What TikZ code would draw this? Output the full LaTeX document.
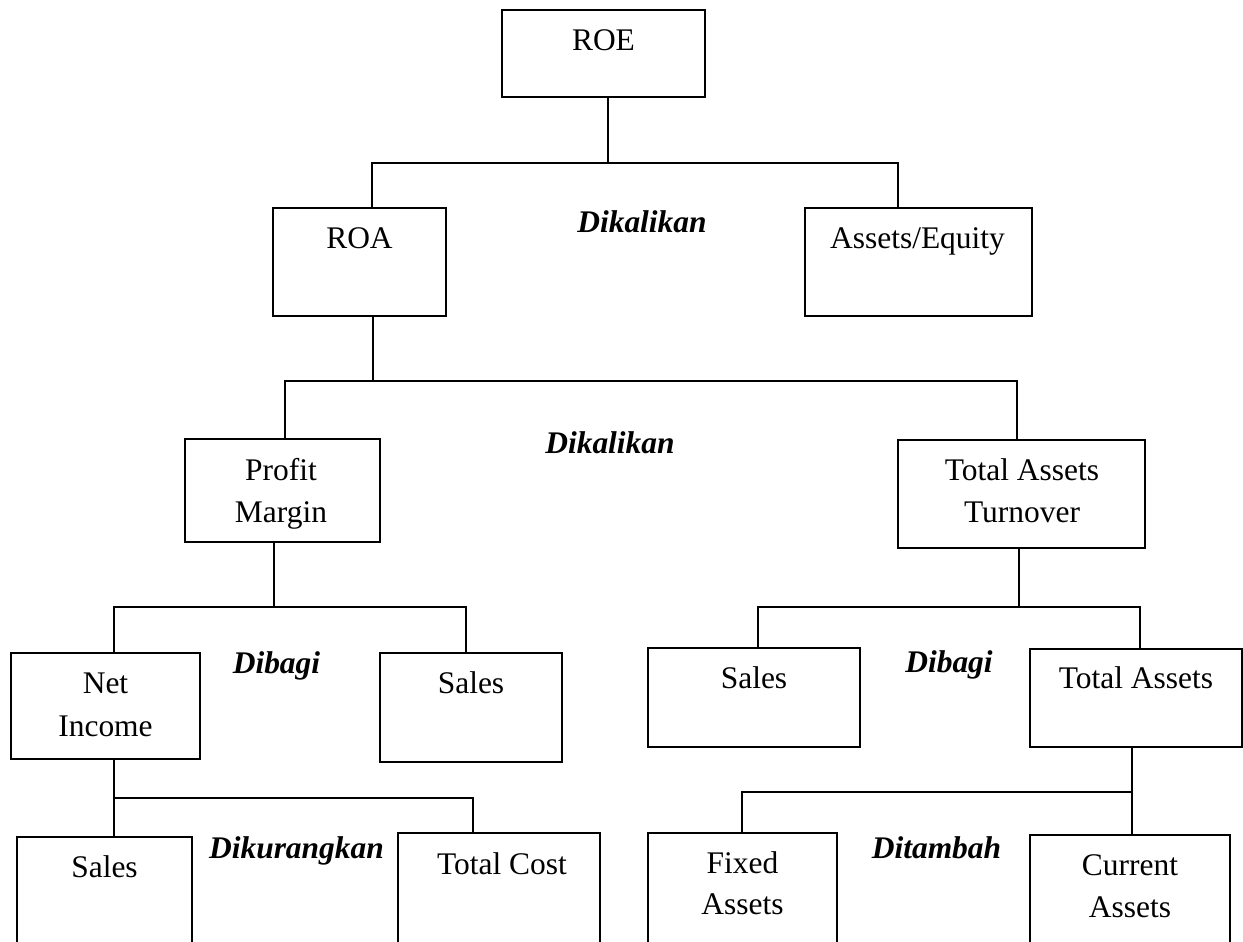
\documentclass[tikz,border=0pt]{standalone}
\usepackage{fontspec}
\setmainfont{Liberation Serif}
\newcommand{\mybox}[5]{%
  \node[box, minimum width={(#4-#2)*0.75pt}, minimum height={(#5-#3)*0.75pt}]
    (#1) at ({(#2+#4)/2},{(#3+#5)/2}) {};}
\tikzset{
  box/.style={draw, line width=1.5pt, inner sep=0pt},
  conn/.style={line width=1.5pt},
  txt/.style={inner sep=0pt, anchor=base, align=center,
    font=\fontsize{23.6}{32}\selectfont},
  op/.style={inner sep=0pt, anchor=base,
    font=\fontsize{23.6}{28}\selectfont\bfseries\itshape},
}
\begin{document}
\begin{tikzpicture}[x=0.75pt, y=-0.75pt]
\useasboundingbox (0,0) rectangle (1243,942);
\clip (0,0) rectangle (1243,942);
% boxes
\mybox{roe}{502}{10}{705}{97}
\mybox{roa}{273}{208}{446}{316}
\mybox{aeq}{805}{208}{1032}{316}
\mybox{pm}{185}{439}{380}{542}
\mybox{tat}{898}{440}{1145}{548}
\mybox{ni}{11}{653}{200}{759}
\mybox{sa}{380}{653}{562}{762}
\mybox{sb}{648}{648}{860}{747}
\mybox{ta}{1030}{649}{1242}{747}
\mybox{sc}{17}{837}{192}{960}
\mybox{tc}{398}{833}{600}{960}
\mybox{fa}{648}{833}{837}{960}
\mybox{ca}{1030}{835}{1230}{960}
% texts
\node[txt] (troe) at (603.5,51) {ROE};
\node[txt] (troa) at (359.5,248) {ROA};
\node[txt] (taeq) at (917.5,248) {Assets/Equity};
\node[txt] (tpm) at (281,480) {Profit};
\node[txt] (tpm2) at (281,522) {Margin};
\node[txt] (ttat) at (1022,480) {Total Assets};
\node[txt] (ttat2) at (1022,522) {Turnover};
\node[txt] (tni) at (105.5,693) {Net};
\node[txt] (tni2) at (105.5,736) {Income};
\node[txt] (tsa) at (471,693) {Sales};
\node[txt] (tsb) at (754,688) {Sales};
\node[txt] (tta) at (1136,688) {Total Assets};
\node[txt] (tsc) at (104.5,877) {Sales};
\node[txt] (ttc) at (502,874) {Total Cost};
\node[txt] (tfa) at (742.5,873) {Fixed};
\node[txt] (tfa2) at (742.5,914) {Assets};
\node[txt] (tca) at (1130,875) {Current};
\node[txt] (tca2) at (1130,917) {Assets};
% operation labels
\node[op] (op1) at (642,232) {Dikalikan};
\node[op] (op2) at (610,453) {Dikalikan};
\node[op] (op3) at (276.5,673) {Dibagi};
\node[op] (op4) at (949,672) {Dibagi};
\node[op] (op5) at (296.5,858) {Dikurangkan};
\node[op] (op6) at (936.5,858) {Ditambah};
% bus coordinates
\coordinate (b1m) at (608,163);
\coordinate (b1l) at (372,163);
\coordinate (b1r) at (898,163);
\coordinate (b2m) at (373,381);
\coordinate (b2l) at (285,381);
\coordinate (b2r) at (1017,381);
\coordinate (b3m) at (274,607);
\coordinate (b3l) at (114,607);
\coordinate (b3r) at (466,607);
\coordinate (b4m) at (1019,607);
\coordinate (b4l) at (758,607);
\coordinate (b4r) at (1140,607);
\coordinate (b5l) at (114,798);
\coordinate (b5r) at (473,798);
\coordinate (b6l) at (742,792);
\coordinate (b6r) at (1132,792);
% connectors
\draw[conn] (roe.south -| b1m) -- (b1m);
\draw[conn] (roa.north -| b1l) -- (b1l) -- (b1r) -- (aeq.north -| b1r);
\draw[conn] (roa.south -| b2m) -- (b2m);
\draw[conn] (pm.north -| b2l) -- (b2l) -- (b2r) -- (tat.north -| b2r);
\draw[conn] (pm.south -| b3m) -- (b3m);
\draw[conn] (ni.north -| b3l) -- (b3l) -- (b3r) -- (sa.north -| b3r);
\draw[conn] (tat.south -| b4m) -- (b4m);
\draw[conn] (sb.north -| b4l) -- (b4l) -- (b4r) -- (ta.north -| b4r);
\draw[conn] (ni.south -| b5l) -- (sc.north -| b5l);
\draw[conn] (b5l) -- (b5r) -- (tc.north -| b5r);
\draw[conn] (ta.south -| b6r) -- (ca.north -| b6r);
\draw[conn] (fa.north -| b6l) -- (b6l) -- (b6r);
\end{tikzpicture}
\end{document}
